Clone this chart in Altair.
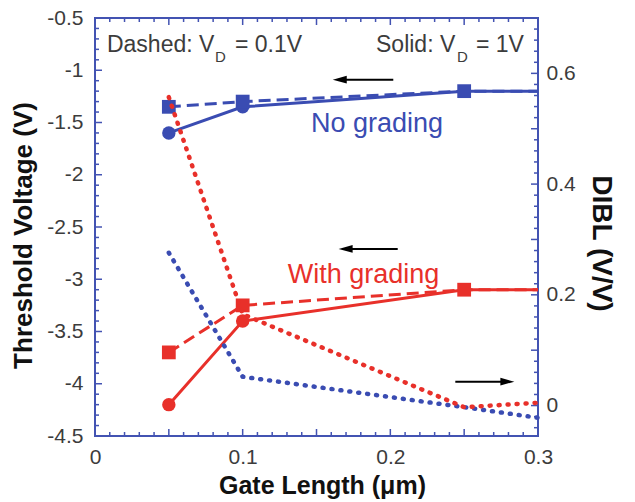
import altair as alt
import numpy as np
import pandas as pd

# ---- measured data -------------------------------------------------------
gate_length = [0.05, 0.1, 0.25, 0.3]

vt_no_grading_vd01 = [-1.35, -1.30, -1.20, -1.20]   # dashed, V_D = 0.1 V
vt_no_grading_vd1 = [-1.60, -1.35, -1.20, -1.20]    # solid,  V_D = 1 V
vt_grading_vd01 = [-3.70, -3.25, -3.10, -3.10]
vt_grading_vd1 = [-4.20, -3.40, -3.10, -3.10]

dibl_no_grading = [0.276, 0.052, -0.003, -0.022]
dibl_grading = [0.557, 0.165, -0.003, 0.005]

# gate lengths that carry a marker
circle_lengths = [0.05, 0.1]
square_lengths = [0.05, 0.1, 0.25]

# tick labels
x_labels = [0, 0.1, 0.2, 0.3]
vt_labels = [-4.5, -4, -3.5, -3, -2.5, -2, -1.5, -1, -0.5]
dibl_labels = [0, 0.2, 0.4, 0.6]

# annotation arrows (tip / tail gate length, threshold voltage level)
arrow_tip = [0.161, 0.165, 0.284]
arrow_tail = [0.202, 0.205, 0.244]
arrow_v = [-1.09, -2.71, -3.98]
arrow_dir = ["left", "left", "right"]

# ---- styling -------------------------------------------------------------
FONT = "Liberation Sans"
BLUE = "#3a4cb2"
RED = "#e8302a"
FRAME = "#4353b2"
TEXT = "#3c3c3c"
MAJOR, MINOR = 7, 4
W, H = 443, 418
X_DOMAIN = [0, 0.3]
VT_DOMAIN = [-4.5, -0.5]
DIBL_DOMAIN = [-0.055, 0.7]

# tick positions per axis
x_ticks = np.round(np.arange(0, 0.3001, 0.01), 2)
vt_ticks = np.round(np.arange(-4.5, -0.4999, 0.1), 1)
dibl_ticks = np.round(np.arange(-0.04, 0.7, 0.02), 2)


def is_multiple(values, step):
    k = values / step
    return np.abs(k - np.round(k)) < 1e-6


def text_axis(orient, labels, **kw):
    props = dict(
        orient=orient, values=labels, ticks=False, tickSize=0, domain=False,
        grid=False, labelOverlap=False, labelFlush=False, labelFont=FONT,
        labelFontSize=21, labelColor=TEXT, labelExpr="'' + datum.value",
        titleFont=FONT, titleFontWeight="bold", titleColor="#111111",
        titleAlign="center",
    )
    props.update(kw)
    return alt.Axis(**props)


x_bottom = text_axis("bottom", x_labels, labelPadding=10,
                     title="Gate Length (μm)", titleFontSize=25,
                     titleX=227, titleY=57, titleBaseline="alphabetic")
y_left = text_axis("left", vt_labels, labelPadding=12,
                   title="Threshold Voltage (V)", titleFontSize=26,
                   titleX=-72, titleY=217, titleBaseline="middle")
y_right = text_axis("right", dibl_labels, labelPadding=8,
                    title="DIBL (V/V)", titleFontSize=28,
                    titleX=62, titleY=225, titleBaseline="middle")

xs = alt.Scale(domain=X_DOMAIN, nice=False, zero=False)
vs = alt.Scale(domain=VT_DOMAIN, nice=False, zero=False)
ds = alt.Scale(domain=DIBL_DOMAIN, nice=False, zero=False)

X = alt.X("L:Q", scale=xs, axis=x_bottom)
V = alt.Y("V:Q", scale=vs, axis=y_left)
D = alt.Y("D:Q", scale=ds, axis=y_right)


# ---- inward-pointing frame ticks ----------------------------------------
def ticks(values, major_step, field, pos, side):
    """Major and minor ticks along one side of the frame, pointing inward."""
    df = pd.DataFrame({field: values.tolist()})
    df["major"] = is_multiple(values, major_step).tolist()
    layers = []
    for major, length in [(True, MAJOR), (False, MINOR)]:
        part = df[df["major"] == major].reset_index(drop=True)
        if side in ("left", "right"):
            x0, x1 = (0, length) if side == "left" else (W - length, W)
            enc = dict(y=pos, x=alt.value(x0), x2=alt.value(x1))
        else:
            y0, y1 = (H - length, H) if side == "bottom" else (0, length)
            enc = dict(x=pos, y=alt.value(y0), y2=alt.value(y1))
        layers.append(alt.Chart(part).mark_rule(
            strokeWidth=1.5, color=FRAME, opacity=1).encode(**enc))
    return layers


tick_layers = (ticks(x_ticks, 0.05, "L", X, "bottom")
               + ticks(x_ticks, 0.05, "L", X, "top")
               + ticks(vt_ticks, 0.5, "V", V, "left"))

# ---- threshold-voltage curves -------------------------------------------
rows = []
for series, color, style, values in [
    ("No grading", BLUE, "dashed", vt_no_grading_vd01),
    ("No grading", BLUE, "solid", vt_no_grading_vd1),
    ("With grading", RED, "dashed", vt_grading_vd01),
    ("With grading", RED, "solid", vt_grading_vd1),
]:
    for L, v in zip(gate_length, values):
        rows.append({"L": L, "V": v, "series": f"{series} {style}",
                     "color": color, "style": style})
vt = pd.DataFrame(rows)

base = alt.Chart(vt).encode(x=X, y=V, color=alt.Color("color:N", scale=None),
                            detail="series:N")

solid = base.transform_filter("datum.style == 'solid'").mark_line(strokeWidth=3)
dashed = base.transform_filter("datum.style == 'dashed'").mark_line(
    strokeWidth=3, strokeDash=[12, 6])
circles = base.transform_filter(
    alt.FieldOneOfPredicate(field="L", oneOf=circle_lengths)
).transform_filter("datum.style == 'solid'").mark_point(
    shape="circle", filled=True, size=180, opacity=1)
squares = base.transform_filter(
    alt.FieldOneOfPredicate(field="L", oneOf=square_lengths)
).transform_filter("datum.style == 'dashed'").mark_point(
    shape="square", filled=True, size=190, opacity=1)

# ---- arrows ---------------------------------------------------------------
HEAD_LEN = 14
head_shift = HEAD_LEN / 2 * (X_DOMAIN[1] - X_DOMAIN[0]) / W
arrows = pd.DataFrame({"tip": arrow_tip, "tail": arrow_tail, "V": arrow_v,
                       "dir": arrow_dir})
arrows["L"] = [t + head_shift if d == "left" else t - head_shift
               for t, d in zip(arrows["tip"], arrows["dir"])]
arrows["L2"] = arrows["tail"]

arrow_shaft = alt.Chart(arrows).mark_rule(color="black", strokeWidth=2).encode(
    x=X, x2="L2:Q", y=V)
arrow_head = alt.Chart(arrows).mark_point(filled=True, color="black", opacity=1,
                                          size=HEAD_LEN ** 2).encode(
    x=X, y=V,
    shape=alt.Shape("dir:N", scale=alt.Scale(
        domain=["left", "right"],
        range=["M-1,0L1,-0.55L1,0.55Z", "M1,0L-1,-0.55L-1,0.55Z"]), legend=None))

# ---- text annotations --------------------------------------------------------
notes = pd.DataFrame({
    "L": [0.0081, 0.0812, 0.0948, 0.1903, 0.2451, 0.2580],
    "V": [-0.825, -0.921, -0.825, -0.825, -0.921, -0.825],
    "text": ["Dashed: V", "D", "= 0.1V", "Solid: V", "D", "= 1V"],
    "fs": [23, 15, 23, 23, 15, 23],
})
note_text = alt.Chart(notes).mark_text(
    align="left", baseline="alphabetic", font=FONT, color=TEXT).encode(
    x=X, y=V, text="text:N", size=alt.Size("fs:Q", scale=None))

labels = pd.DataFrame({
    "L": [0.191, 0.1818],
    "V": [-1.591, -3.036],
    "text": ["No grading", "With grading"],
    "color": [BLUE, RED],
})
label_text = alt.Chart(labels).mark_text(
    align="center", baseline="alphabetic", font=FONT, fontSize=27).encode(
    x=X, y=V, text="text:N", color=alt.Color("color:N", scale=None))

vt_layer = alt.layer(*tick_layers, solid, dashed, circles, squares,
                     arrow_shaft, arrow_head, note_text, label_text)

# ---- DIBL curves (right axis) --------------------------------------------
dibl = pd.DataFrame(
    [{"L": L, "D": d, "series": "No grading", "color": BLUE}
     for L, d in zip(gate_length, dibl_no_grading)] +
    [{"L": L, "D": d, "series": "With grading", "color": RED}
     for L, d in zip(gate_length, dibl_grading)]
)
XD = alt.X("L:Q", scale=xs, axis=None)
dibl_lines = alt.Chart(dibl).mark_line(
    strokeWidth=4.5, strokeDash=[1, 8], strokeCap="round").encode(
    x=XD, y=D,
    color=alt.Color("color:N", scale=None),
    detail="series:N",
)
dibl_layer = alt.layer(*ticks(dibl_ticks, 0.1, "D", D, "right"), dibl_lines)

chart = alt.layer(vt_layer, dibl_layer).resolve_scale(
    x="independent", y="independent"
).properties(
    width=W, height=H,
    padding={"left": 95, "top": 18, "right": 635 - 95 - W, "bottom": 502 - 18 - H},
    autosize="none",
    background="white",
).configure_view(stroke=FRAME, strokeWidth=2)

chart.save("out.html", embed_options={"renderer": "svg", "actions": False})
